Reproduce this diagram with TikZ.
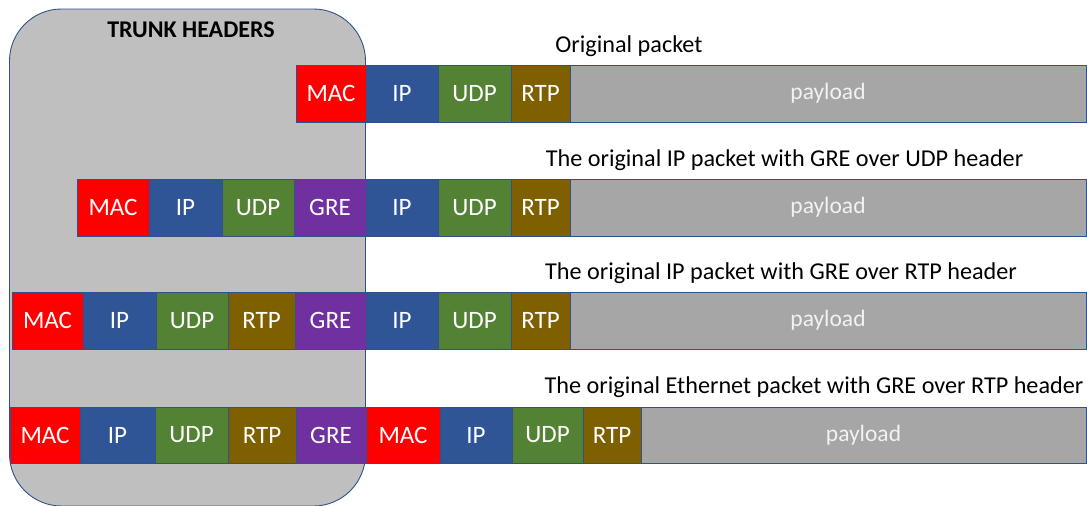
\documentclass[tikz,border=0pt]{standalone}
\usepackage{fontspec}
\setmainfont{Carlito}
\definecolor{macred}{HTML}{FF0000}
\definecolor{ipblue}{HTML}{2F5597}
\definecolor{udpgreen}{HTML}{548235}
\definecolor{rtpbrown}{HTML}{7F6000}
\definecolor{grepurple}{HTML}{7030A0}
\definecolor{paygray}{HTML}{A6A6A6}
\definecolor{trunkgray}{HTML}{BFBFBF}
\definecolor{edgeblue}{HTML}{2F528F}
\tikzset{
  cell/.style={rectangle,draw=edgeblue,line width=0.8pt,inner sep=0pt,outer sep=0pt,
    minimum height=57,text=white,font=\fontsize{25}{30}\selectfont},
  mac/.style={cell,fill=macred},
  ip/.style={cell,fill=ipblue},
  udp/.style={cell,fill=udpgreen},
  rtp/.style={cell,fill=rtpbrown},
  gre/.style={cell,fill=grepurple},
  payload/.style={cell,fill=paygray,text=white!95!black,font=\fontsize{23.5}{28}\selectfont},
  caption/.style={font=\fontsize{24.2}{29}\selectfont,inner sep=0pt}
}
\begin{document}
\begin{tikzpicture}[x=1pt,y=-1pt]
\useasboundingbox (0,0) rectangle (1087,506);
% trunk header area
\node(trunk)[rectangle,draw=edgeblue,line width=0.9pt,fill=trunkgray,rounded corners=52,
  minimum width=356,minimum height=497] at (187.5,257.5){};
\node(trunklabel)[caption,font=\fontsize{24}{29}\selectfont\bfseries] at (191,30){TRUNK HEADERS};
% original packet
\node(cap1)[caption] at (629,46){Original packet};
\node(amac)[mac,minimum width=70] at (331,93.5){MAC};
\node(aip)[ip,minimum width=72] at (402,93.5){IP};
\node(audp)[udp,minimum width=73] at (474.5,93.5){UDP};
\node(artp)[rtp,minimum width=59] at (540.5,93.5){RTP};
\node(apay)[payload,minimum width=516] at (828,93.5){payload};
% GRE over UDP
\node(cap2)[caption] at (784.5,160){The original IP packet with GRE over UDP header};
\node(bmac)[mac,minimum width=72] at (113,207.5){MAC};
\node(bip1)[ip,minimum width=73] at (185.5,207.5){IP};
\node(budp1)[udp,minimum width=72] at (258,207.5){UDP};
\node(bgre)[gre,minimum width=72] at (330,207.5){GRE};
\node(bip2)[ip,minimum width=72] at (402,207.5){IP};
\node(budp2)[udp,minimum width=73] at (474.5,207.5){UDP};
\node(brtp)[rtp,minimum width=59] at (540.5,207.5){RTP};
\node(bpay)[payload,minimum width=516] at (828,207.5){payload};
% GRE over RTP
\node(cap3)[caption] at (781,273){The original IP packet with GRE over RTP header};
\node(cmac)[mac,minimum width=71] at (47.5,320.5){MAC};
\node(cip1)[ip,minimum width=73] at (119.5,320.5){IP};
\node(cudp1)[udp,minimum width=72] at (192,320.5){UDP};
\node(crtp1)[rtp,minimum width=67] at (261.5,320.5){RTP};
\node(cgre)[gre,minimum width=71] at (330.5,320.5){GRE};
\node(cip2)[ip,minimum width=72] at (402,320.5){IP};
\node(cudp2)[udp,minimum width=73] at (474.5,320.5){UDP};
\node(crtp2)[rtp,minimum width=59] at (540.5,320.5){RTP};
\node(cpay)[payload,minimum width=516] at (828,320.5){payload};
% Ethernet with GRE over RTP
\node(cap4)[caption] at (814,387){The original Ethernet packet with GRE over RTP header};
\node(dmac1)[mac,minimum width=70,minimum height=56] at (45,435){MAC};
\node(dip1)[ip,minimum width=75,minimum height=56] at (117.5,435){IP};
\node(dudp1)[udp,minimum width=73,minimum height=56] at (191.5,435){UDP};
\node(drtp1)[rtp,minimum width=68,minimum height=56] at (262,435){RTP};
\node(dgre)[gre,minimum width=70,minimum height=56] at (331,435){GRE};
\node(dmac2)[mac,minimum width=74,minimum height=56] at (403,435){MAC};
\node(dip2)[ip,minimum width=72,minimum height=56] at (476,435){IP};
\node(dudp2)[udp,minimum width=71,minimum height=56] at (547.5,435){UDP};
\node(drtp2)[rtp,minimum width=58,minimum height=56] at (612,435){RTP};
\node(dpay)[payload,minimum width=445,minimum height=56] at (863.5,435){payload};
\end{tikzpicture}
\end{document}
